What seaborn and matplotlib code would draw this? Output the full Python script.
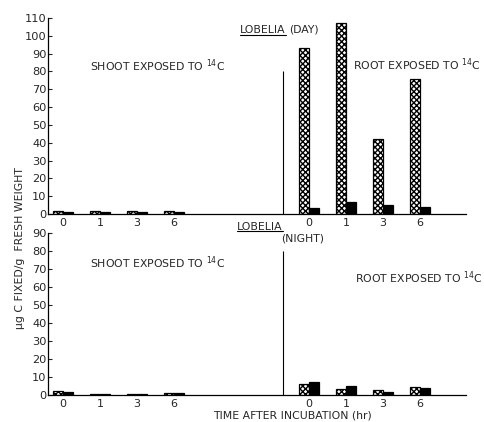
import numpy as np
import pandas as pd
import matplotlib
matplotlib.use("Agg")
import matplotlib.pyplot as plt
from matplotlib.lines import Line2D
import seaborn as sns

# données (µg C fixé / g poids frais)
times = ["0", "1", "3", "6"]
tissues = ["shoot tissue", "root tissue"]   # hachuré, noir

day_shoot_exp_hatched = [1.5, 1.5, 1.5, 1.5]
day_shoot_exp_black = [1.0, 1.0, 1.0, 1.0]
day_root_exp_hatched = [93, 107, 42, 76]
day_root_exp_black = [3.4, 6.8, 5.0, 4.0]

night_shoot_exp_hatched = [2.0, 0.6, 0.6, 1.2]
night_shoot_exp_black = [1.5, 0.5, 0.5, 1.0]
night_root_exp_hatched = [6.1, 3.3, 2.8, 4.4]
night_root_exp_black = [7.2, 5.0, 1.8, 3.9]

# mise en page : décalage du groupe "root exposed" sur l'axe x
group_offset = {"shoot": 0.0, "root": 6.65}
divider_x = 5.95


def make_df(shoot_h, shoot_b, root_h, root_b):
    rows = []
    for exp, h, b in [("shoot", shoot_h, shoot_b), ("root", root_h, root_b)]:
        for i, t in enumerate(times):
            rows.append({"xpos": i + group_offset[exp], "time": t, "tissue": tissues[0], "value": h[i]})
            rows.append({"xpos": i + group_offset[exp], "time": t, "tissue": tissues[1], "value": b[i]})
    return pd.DataFrame(rows)


df_day = make_df(day_shoot_exp_hatched, day_shoot_exp_black, day_root_exp_hatched, day_root_exp_black)
df_night = make_df(night_shoot_exp_hatched, night_shoot_exp_black, night_root_exp_hatched, night_root_exp_black)

sns.set_style("white")
plt.rcParams['font.family'] = ['DejaVu Sans']
plt.rcParams['hatch.linewidth'] = 1.0

W, H = 484, 422
fig = plt.figure(figsize=(W / 100, H / 100), dpi=100)

def fx(px):
    return px / W

def fy(py):
    return 1 - py / H

ax_top = fig.add_axes([fx(48), fy(214), fx(466) - fx(48), fy(18) - fy(214)])
ax_bot = fig.add_axes([fx(48), fy(395), fx(466) - fx(48), fy(233) - fy(395)])

for ax, d, ymax in [(ax_top, df_day, 110), (ax_bot, df_night, 90)]:
    sns.barplot(data=d, x="xpos", y="value", hue="tissue", hue_order=tissues,
                native_scale=True, width=0.54, palette=["white", "black"],
                edgecolor="black", linewidth=0.9, errorbar=None, legend=False, ax=ax)
    # motif hachuré pour la première série
    for bar in ax.containers[0]:
        bar.set_hatch("xxxxxx")
    ax.set_xlim(-0.405, 10.9)
    ax.set_ylim(0, ymax)
    ax.set_yticks(np.arange(0, ymax + 1, 10))
    xt = [i + group_offset[g] for g in ["shoot", "root"] for i in range(len(times))]
    ax.set_xticks(xt)
    ax.set_xticklabels(times * 2, fontsize=8)
    ax.tick_params(axis="y", direction="in", length=3, width=0.8, labelsize=8.2, pad=1, left=True)
    ax.tick_params(axis="x", length=0, pad=3)
    ax.set_xlabel("")
    ax.set_ylabel("")
    sns.despine(ax=ax)
    for s in ["left", "bottom"]:
        ax.spines[s].set_linewidth(0.9)
        ax.spines[s].set_color("black")
    ax.vlines(divider_x, 0, 80, color="black", lw=0.8)

fs = 7.8
fig.text(fx(90), fy(66), "SHOOT EXPOSED TO $^{14}$C", fontsize=fs, va="center")
fig.text(fx(353), fy(65), "ROOT EXPOSED TO $^{14}$C", fontsize=fs, va="center")
fig.text(fx(90), fy(263), "SHOOT EXPOSED TO $^{14}$C", fontsize=fs, va="center")
fig.text(fx(355), fy(278), "ROOT EXPOSED TO $^{14}$C", fontsize=fs, va="center")

t1 = fig.text(fx(240), fy(30), "LOBELIA", fontsize=fs, va="center")
fig.text(fx(289), fy(30), "(DAY)", fontsize=fs, va="center")
t2 = fig.text(fx(237), fy(227), "LOBELIA", fontsize=fs, va="center")
fig.text(fx(281), fy(238), "(NIGHT)", fontsize=fs, va="center")

fig.text(fx(292), fy(416), "TIME AFTER INCUBATION (hr)", fontsize=fs, ha="center", va="center")
fig.text(fx(20), fy(248), "µg C FIXED/g  FRESH WEIGHT", fontsize=fs, rotation=90,
         ha="center", va="center")

# soulignement de LOBELIA
fig.canvas.draw()
for t in [t1, t2]:
    bb = t.get_window_extent()
    y = bb.y0 + 0.5
    fig.add_artist(Line2D([bb.x0 / W, bb.x1 / W], [y / H, y / H],
                          transform=fig.transFigure, color="black", lw=0.8))

fig.savefig("out.png", dpi=100)
